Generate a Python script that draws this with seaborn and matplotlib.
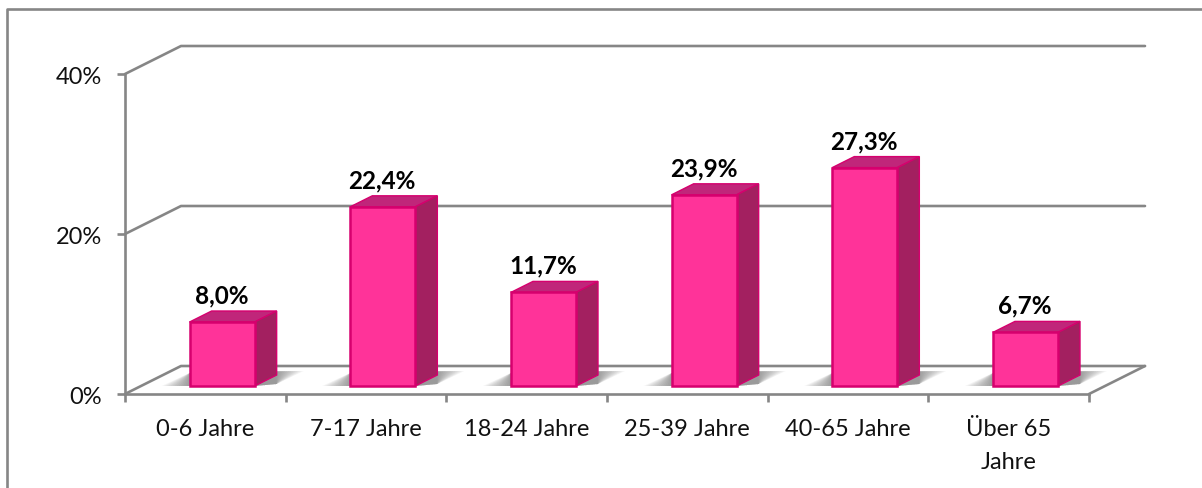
import matplotlib
matplotlib.use("Agg")
import matplotlib.pyplot as plt
import seaborn as sns
import numpy as np
from matplotlib.lines import Line2D
from matplotlib.patches import Polygon
from matplotlib.transforms import Affine2D, IdentityTransform

categories = ['0-6 Jahre', '7-17 Jahre', '18-24 Jahre', '25-39 Jahre', '40-65 Jahre', 'Über 65\nJahre']
values = [8.0, 22.4, 11.7, 23.9, 27.3, 6.7]
value_labels = ['8,0%', '22,4%', '11,7%', '23,9%', '27,3%', '6,7%']
y_ticks = [0, 20, 40]
y_tick_labels = ['0%', '20%', '40%']

W, H = 1202, 489
GREY = '#868686'
FRONT, EDGE, TOP, SIDE = '#FF3399', '#D6006E', '#C0267A', '#A32060'
LW = 1.9

sns.set_theme(style='white')
plt.rcParams['font.family'] = ['Lato', 'DejaVu Sans']

fig = plt.figure(figsize=(W / 100, H / 100), dpi=100)
ax = fig.add_axes([125 / W, 1 - 395 / H, 964 / W, 320 / H])
ax.patch.set_alpha(0)

sns.barplot(x=list(range(len(values))), y=values, color=FRONT, saturation=1, width=0.405,
            edgecolor=EDGE, linewidth=1.8, ax=ax, zorder=4)
ax.set_xlim(-0.5, len(values) - 0.5)
ax.set_ylim(0, 40)

# tick marks sit between the categories, labels in the middle
ax.set_xticks(range(len(values)))
ax.set_xticklabels(categories, fontsize=17, color='#111111', linespacing=1.72)
ax.set_xticks(np.arange(-0.5, len(values)), minor=True)
ax.tick_params(axis='x', which='major', length=0, pad=17)
ax.tick_params(axis='x', which='minor', length=5.8, width=LW, color=GREY, bottom=True)
ax.set_yticks(y_ticks)
ax.set_yticklabels(y_tick_labels, fontsize=17, color='#111111')
ax.tick_params(axis='y', length=5.8, width=LW, color=GREY, left=True, pad=11)
for t in ax.get_yticklabels():
    t.set_transform(t.get_transform() + Affine2D().translate(0, -1))

sns.despine(ax=ax)
for side in ['left', 'bottom']:
    ax.spines[side].set_color(GREY)
    ax.spines[side].set_linewidth(LW)

# the walls and floor, pushed back in pixels
fig.canvas.draw()
WALL_DX, WALL_DY = 56, 28
px = IdentityTransform()
x0, x1 = ax.get_xlim()
for v in y_ticks:
    (xa, ya), (xb, yb) = ax.transData.transform([(x0, v), (x1, v)])
    ax.add_line(Line2D([xa, xa + WALL_DX, xb + WALL_DX], [ya, ya + WALL_DY, yb + WALL_DY],
                       transform=px, color=GREY, lw=LW, clip_on=False, zorder=1))
    if v == 0:
        ax.add_line(Line2D([xb, xb + WALL_DX], [yb, yb + WALL_DY], transform=px,
                           color=GREY, lw=LW, clip_on=False, zorder=1))

# fake 3d bars: move the seaborn bars on the floor, add top, side and shadow
BAR_DX, BAR_DY = 16.8, 8
DEPTH_X, DEPTH_Y = 22, 11
shift = ax.transData + Affine2D().translate(BAR_DX, BAR_DY)
for p, lab, val, i in zip(ax.patches, value_labels, values, range(len(values))):
    (l, b), (r, t) = shift.transform([(p.get_x(), 0), (p.get_x() + p.get_width(), p.get_height())])
    p.set_transform(shift)
    p.set_clip_on(False)

    # soft shadow, stacked polygons fading to the outside
    for g in np.linspace(1, 0, 14):
        sh = [(l - 28 * g, b), (l, b + 13), (r + DEPTH_X + 27 * g, b + 15),
              (r + DEPTH_X, b + 2), (r, b)]
        ax.add_patch(Polygon(sh, transform=px, closed=True, fc='#555555', ec='none',
                             alpha=0.06, clip_on=False, zorder=2))

    top = [(l, t), (l + DEPTH_X, t + DEPTH_Y), (r + DEPTH_X, t + DEPTH_Y), (r, t)]
    side = [(r, b), (r + DEPTH_X, b + DEPTH_Y), (r + DEPTH_X, t + DEPTH_Y), (r, t)]
    ax.add_patch(Polygon(top, transform=px, fc=TOP, ec=EDGE, lw=1, clip_on=False, zorder=3))
    ax.add_patch(Polygon(side, transform=px, fc=SIDE, ec=EDGE, lw=1, clip_on=False, zorder=3))

    ax.annotate(lab, xy=(i, val), xytext=(BAR_DX - 0.5, BAR_DY + 27), textcoords='offset pixels',
                ha='center', va='center', fontsize=17.5, fontweight='bold', color='black', zorder=5)

# chart frame, only left and top are inside the picture
fig.add_artist(Line2D([7 / W, 7 / W, 1], [0, 1 - 10 / H, 1 - 10 / H], transform=fig.transFigure,
                      color=GREY, lw=LW))

fig.savefig('out.png', dpi=100)
